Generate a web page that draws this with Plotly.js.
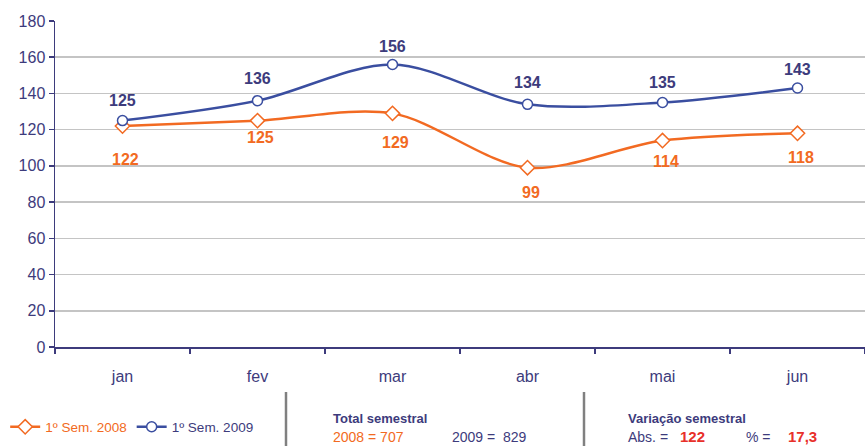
<!DOCTYPE html>
<html><head><meta charset="utf-8">
<script src="https://cdn.plot.ly/plotly-3.0.1.min.js"></script>
<style>body{margin:0;background:#fff}#chart{width:865px;height:446px}</style>
</head><body><div id="chart"></div>
<script>
const months = ["jan","fev","mar","abr","mai","jun"];
const sem2008 = [122,125,129,99,114,118];
const sem2009 = [125,136,156,134,135,143];
const yTicks = [0,20,40,60,80,100,120,140,160,180];
const total2008 = "707", total2009 = "829";
const varAbs = "122", varPct = "17,3";
// label vertical offsets (px) — styling only
const shift2008 = [-33,-17,-29,-25,-21,-24];
const shift2009 = [20,22,18,22,20,19];

const NAVY = "#3d3b7c", ORANGE = "#f26a22", BLUE = "#3a4ea0", RED = "#e8302a";
const FONT = "'Liberation Sans', Arial, sans-serif";

const traces = [
  {x: months, y: sem2008, type: "scatter", mode: "lines+markers",
   name: "<span style='color:" + ORANGE + "'>1º Sem. 2008</span>",
   line: {color: ORANGE, width: 2.5, shape: "spline", smoothing: 0.9},
   marker: {symbol: "diamond", size: 11, color: "#ffffff", line: {width: 1.5, color: ORANGE}}},
  {x: months, y: sem2009, type: "scatter", mode: "lines+markers",
   name: "<span style='color:" + NAVY + "'>1º Sem. 2009</span>",
   line: {color: BLUE, width: 2.5, shape: "spline", smoothing: 0.9},
   marker: {symbol: "circle", size: 10, color: "#ffffff", line: {width: 1.5, color: BLUE}}}
];

const ann = [];
months.forEach((m, i) => {
  ann.push({x: m, y: sem2009[i], text: "<b>" + sem2009[i] + "</b>", showarrow: false, yshift: shift2009[i],
    font: {family: FONT, size: 16, color: NAVY}});
  ann.push({x: m, y: sem2008[i], text: "<b>" + sem2008[i] + "</b>", showarrow: false, yshift: shift2008[i], xshift: 3,
    font: {family: FONT, size: 16, color: ORANGE}});
});

const plotL = 55, plotW = 810, plotT = 21, plotH = 326;
const px = x => (x - plotL) / plotW;
const py = y => (plotT + plotH - y) / plotH;
function txt(x, y, t, color, bold, size) {
  ann.push({xref: "paper", yref: "paper", x: px(x), y: py(y), xanchor: "left", yanchor: "middle",
    text: bold ? "<b>" + t + "</b>" : t, showarrow: false,
    font: {family: FONT, size: size || 14, color: color}});
}
txt(331, 418, "Total semestral", NAVY, true, 13);
txt(331, 437, "2008 = " + total2008, ORANGE, false, 14);
txt(450, 437, "2009 =  " + total2009, NAVY, false, 14);
txt(626, 418, "Variação semestral", NAVY, true, 13);
txt(626, 437, "Abs. =", NAVY, false, 14);
txt(678, 436, varAbs, RED, true, 15);
txt(744, 437, "% =", NAVY, false, 14);
txt(786, 436, varPct, RED, true, 15);

const shapes = [286, 584].map(x => ({type: "line", xref: "paper", yref: "paper",
  x0: px(x), x1: px(x), y0: py(392), y1: py(450), line: {color: "#808080", width: 2.5}}));

const layout = {
  width: 865, height: 446,
  margin: {l: plotL, r: 0, t: plotT, b: 446 - plotT - plotH},
  paper_bgcolor: "#fff", plot_bgcolor: "#fff",
  font: {family: FONT, color: NAVY},
  showlegend: true,
  legend: {orientation: "h", xref: "container", yref: "container", x: 0.006, y: 1 - 427/446,
    xanchor: "left", yanchor: "middle", font: {family: FONT, size: 13.5, color: NAVY},
    itemwidth: 30, tracegroupgap: 0, bgcolor: "rgba(0,0,0,0)"},
  xaxis: {type: "category", range: [-0.5, 5.5], tickson: "boundaries", ticks: "outside", ticklen: 5,
    tickcolor: NAVY, tickwidth: 1.5, showline: true, linecolor: NAVY, linewidth: 1.5,
    showgrid: false, zeroline: false, tickfont: {family: FONT, size: 16, color: NAVY},
    ticklabelstandoff: 14, fixedrange: true},
  yaxis: {range: [0, 180], tickvals: yTicks, ticks: "outside", ticklen: 5, tickcolor: NAVY,
    tickwidth: 1.5, showline: true, linecolor: NAVY, linewidth: 1.5,
    showgrid: true, gridcolor: "#c4c4c4", gridwidth: 1.5, zeroline: false,
    tickfont: {family: FONT, size: 16, color: NAVY}, fixedrange: true},
  annotations: ann, shapes: shapes
};
Plotly.newPlot("chart", traces, layout, {displayModeBar: false, staticPlot: true});
</script></body></html>
